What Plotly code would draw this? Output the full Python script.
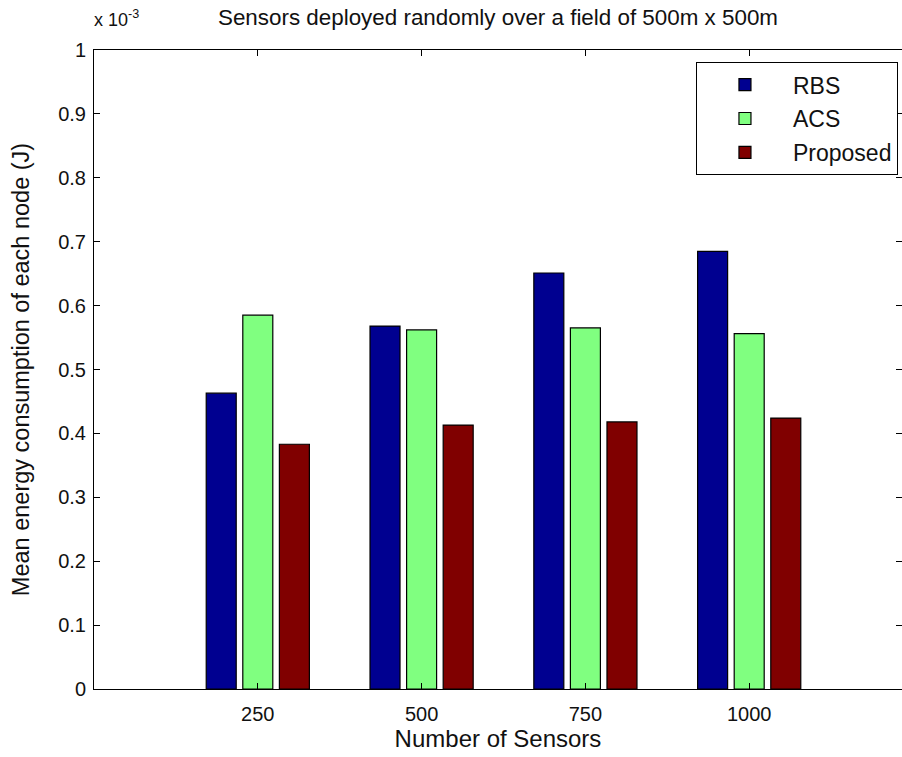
import plotly.graph_objects as go

# Data (values in units of 1e-3 J)
categories = ["250", "500", "750", "1000"]
rbs = [0.463, 0.568, 0.651, 0.685]
acs = [0.585, 0.562, 0.565, 0.556]
proposed = [0.383, 0.413, 0.418, 0.424]
y_ticks = [0, 0.1, 0.2, 0.3, 0.4, 0.5, 0.6, 0.7, 0.8, 0.9, 1]
y_tick_labels = ["0", "0.1", "0.2", "0.3", "0.4", "0.5", "0.6", "0.7", "0.8", "0.9", "1"]

x_pos = list(range(1, len(categories) + 1))

FONT = "Liberation Sans, Arial, sans-serif"
TXT = "#111111"

fig = go.Figure()
series = [("RBS", rbs, "#000090"), ("ACS", acs, "#80FF80"), ("Proposed", proposed, "#800000")]
for name, vals, col in series:
    fig.add_trace(go.Bar(x=x_pos, y=vals, name=name, legendgroup=name,
                         marker=dict(color=col, line=dict(color="black", width=1.2))))

# empty helper trace so that the right-hand (mirrored) tick axis is drawn
fig.add_trace(go.Scatter(x=[], y=[], yaxis="y2", showlegend=False, hoverinfo="skip"))

fig.update_layout(
    width=902, height=757,
    margin=dict(l=94, r=0, t=50, b=68),
    paper_bgcolor="white", plot_bgcolor="white",
    barmode="group", bargap=0.33, bargroupgap=0.18,
    font=dict(family=FONT, size=20, color=TXT),
    title=dict(text="Sensors deployed randomly over a field of 500m x 500m",
               x=0.5, xref="paper", xanchor="center",
               y=(757 - 17) / 757, yanchor="middle",
               font=dict(family=FONT, size=22.4, color=TXT)),
    showlegend=True,
    legend=dict(x=0.995, xanchor="right", y=0.981, yanchor="top",
                bgcolor="white", bordercolor="black", borderwidth=1,
                font=dict(family=FONT, size=23, color=TXT),
                itemwidth=86, traceorder="grouped", tracegroupgap=1),
    xaxis=dict(range=[0, 808 / 163.8], tickvals=x_pos, ticktext=categories,
               showline=True, linecolor="black", linewidth=1, mirror="ticks",
               ticks="inside", ticklen=6, tickcolor="black",
               showgrid=False, zeroline=False, ticklabelstandoff=7,
               title=dict(text="Number of Sensors", standoff=3,
                          font=dict(family=FONT, size=24, color=TXT))),
    yaxis=dict(range=[0, 1], tickvals=y_ticks, ticktext=y_tick_labels,
               showline=True, linecolor="black", linewidth=1,
               ticks="inside", ticklen=6, tickcolor="black",
               showgrid=False, zeroline=False, ticklabelstandoff=3,
               title=dict(text="Mean energy consumption of each node (J)",
                          standoff=21, font=dict(family=FONT, size=23.5, color=TXT))),
    yaxis2=dict(range=[0, 1], overlaying="y", side="right", tickvals=y_ticks,
                showticklabels=False, showline=False, ticks="inside", ticklen=6,
                tickcolor="black", showgrid=False, zeroline=False, automargin=False),
)

fig.add_annotation(text="x 10<sup>-3</sup>", xref="paper", yref="paper",
                   x=0, xanchor="left", y=1, yanchor="bottom", yshift=18, xshift=-2,
                   showarrow=False, font=dict(family=FONT, size=18, color=TXT))

fig.write_html("out.html")
